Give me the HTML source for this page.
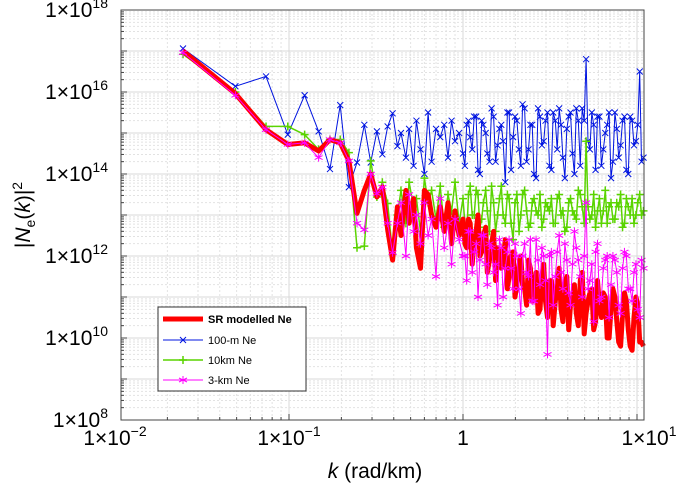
<!DOCTYPE html>
<html><head><meta charset="utf-8"><style>
body{margin:0;background:#fff;}
svg{display:block;font-family:"Liberation Sans",sans-serif;}
</style></head><body>
<svg id="chart" width="685" height="493" viewBox="0 0 685 493">
<g id="grid"></g>
<g id="series"></g>
<rect x="121" y="10" width="523" height="410" fill="none" stroke="#444" stroke-width="1"/>
<g id="ticks"></g>
<text x="375" y="478" font-size="21" text-anchor="middle"><tspan font-style="italic">k</tspan> (rad/km)</text>
<text transform="translate(30,215) rotate(-90)" font-size="21" text-anchor="middle">|<tspan font-style="italic">N</tspan><tspan font-size="14" dy="5">e</tspan><tspan dy="-5">(</tspan><tspan font-style="italic">k</tspan>)|<tspan font-size="14" dy="-8">2</tspan></text>
<g>
<rect x="158" y="307" width="148" height="84" fill="#fff" stroke="#333" stroke-width="1"/>
<g><line x1="163" y1="319" x2="203" y2="319" stroke="#f00" stroke-width="5"/><text x="208" y="323" font-size="11" font-weight="bold">SR modelled Ne</text></g>
<g><line x1="163" y1="340" x2="203" y2="340" stroke="#0014e0" stroke-width="1"/><path d="M180 337l6 6M186 337l-6 6" stroke="#0014e0" stroke-width="1"/><text x="208" y="344" font-size="11">100-m Ne</text></g>
<g><line x1="163" y1="360" x2="203" y2="360" stroke="#5ad400" stroke-width="1.5"/><path d="M183 356v8M179 360h8" stroke="#5ad400" stroke-width="1.5"/><text x="208" y="364" font-size="11">10km Ne</text></g>
<g><line x1="163" y1="380" x2="203" y2="380" stroke="#f0f" stroke-width="1"/><path d="M183 376v8M179 378l8 4M179 382l8-4" stroke="#f0f" stroke-width="1"/><text x="208" y="384" font-size="11">3-km Ne</text></g>
</g>
</svg>
<script>
const kValues=[0.0246,0.0492,0.0738,0.0984,0.123,0.148,0.172,0.197,0.221,0.246,0.271,0.295,0.32,0.344,0.369,0.394,
0.42,0.44,0.47,0.49,0.52,0.54,0.57,0.6,0.63,0.66,0.7,0.74,0.78,0.82,0.86,0.9,0.95,1.0,1.05,1.1,1.16,1.22,1.28,1.35,1.42,1.5,1.58,1.66,1.75,1.84,1.94,2.04,2.15,2.26,2.38,2.5,2.63,2.77,2.91,3.06,3.22,3.39,3.57,3.75,3.95,4.15,4.37,4.6,4.84,5.1,5.36,5.64,5.93,6.24,6.57,6.91,7.27,7.65,8.05,8.47,8.91,9.37,9.86,10.37,10.9,
1.025,1.075,1.13,1.19,1.25,1.31,1.38,1.46,1.54,1.62,1.7,1.8,1.89,1.99,2.1,2.2,2.32,2.44,2.56,2.7,2.84,2.98,3.14,3.3,3.48,3.66,3.85,4.05,4.26,4.48,4.72,4.97,5.23,5.5,5.78,6.08,6.4,6.74,7.09,7.46,7.85,8.26,8.69,9.14,9.61,10.1,10.62];
const logBlue=[17.06,16.14,16.38,14.96,15.92,15.04,14.12,15.68,13.68,14.28,15.2,14.28,15.04,14.48,15.16,15.48,
14.68,15.0,14.4,15.1,14.2,15.3,14.6,14.0,15.5,14.3,15.1,14.9,15.2,14.4,15.3,14.8,15.0,14.5,15.2,14.9,15.4,14.1,15.3,15.0,14.3,15.4,14.7,15.2,13.8,15.5,14.9,15.3,14.2,15.6,14.6,15.2,13.9,15.4,14.8,15.5,14.1,15.3,15.6,14.4,15.1,15.5,14.0,15.3,15.6,16.8,14.6,15.2,15.4,14.2,15.0,15.5,14.3,15.1,14.7,15.4,14.0,15.3,14.8,16.5,14.4,
14.2,15.3,14.6,15.4,14.0,15.2,14.5,15.6,14.3,15.1,14.8,15.5,14.1,15.4,14.6,15.7,14.3,15.2,14.0,15.6,14.7,15.3,14.2,15.5,14.6,15.2,13.9,15.4,14.5,15.6,14.2,15.3,14.8,15.5,14.1,15.4,14.6,15.2,13.9,15.5,14.4,15.3,14.1,15.4,14.7,15.2,14.3];
const logGreen=[16.92,16.0,15.16,15.16,14.96,14.6,14.84,14.84,14.52,12.2,12.24,14.32,13.44,13.8,13.28,12.04,
13.0,13.6,12.8,13.8,13.2,13.4,12.6,13.9,13.3,13.6,12.9,13.7,12.7,13.5,13.1,13.8,12.8,13.4,12.5,13.7,13.0,13.5,12.9,13.6,12.6,13.3,13.0,13.7,12.8,13.4,12.4,13.5,13.0,13.6,12.7,13.3,13.1,13.5,12.9,13.2,13.4,12.8,13.5,13.1,12.7,13.4,13.0,13.6,13.2,14.8,12.9,13.5,13.1,12.8,13.6,13.2,12.9,13.3,13.5,12.8,13.2,13.4,13.0,13.5,13.1,
12.8,13.5,13.0,13.6,12.7,13.3,13.1,13.7,12.6,13.4,13.0,13.5,12.8,13.3,12.6,13.5,13.1,12.8,13.4,13.0,12.7,13.3,13.1,12.8,13.4,13.0,12.6,13.3,13.1,12.9,13.5,12.8,13.2,13.0,12.7,13.4,13.1,12.8,13.3,12.9,13.2,12.7,13.4,13.0,12.8,13.3,13.0];
const logMagenta=[16.96,15.92,15.08,14.72,14.76,14.4,14.84,14.76,14.32,12.8,12.64,14.0,13.52,13.68,12.8,12.08,
12.8,13.3,12.0,13.5,12.6,13.0,12.3,13.3,12.5,12.9,11.5,13.4,12.2,12.8,11.8,12.9,12.4,12.0,11.4,12.6,12.1,11.0,12.5,11.8,12.3,11.6,10.8,12.2,11.7,12.4,11.2,12.0,10.6,12.3,11.5,10.9,12.4,11.3,12.0,9.6,12.1,11.5,12.5,11.2,11.9,10.8,12.6,11.9,11.0,13.3,11.4,10.4,12.3,11.0,11.9,10.5,12.0,11.6,10.6,12.1,11.2,10.9,11.8,10.5,11.7,
12.0,12.6,11.6,12.3,11.9,12.5,11.3,12.2,11.8,12.4,11.0,12.1,11.7,12.3,11.2,12.0,11.6,12.4,10.9,11.9,12.2,11.4,12.0,10.8,12.1,11.6,12.3,11.1,11.8,12.2,11.5,12.0,11.2,11.8,12.1,10.9,11.7,12.0,11.3,11.9,10.8,11.7,12.0,11.2,11.6,10.7,11.9];
const logRed=[17.0,15.96,15.08,14.72,14.76,14.56,14.84,14.76,14.32,13.04,13.6,14.0,13.44,13.68,12.64,11.9,
13.2,12.5,13.6,12.8,13.4,12.2,11.7,13.6,13.5,13.0,12.7,13.2,12.6,13.3,12.3,13.1,12.5,12.9,12.2,12.8,12.4,13.0,12.1,12.7,11.9,12.6,12.2,11.7,12.4,11.5,12.1,11.3,12.0,11.2,11.9,10.9,11.6,10.7,11.8,10.5,11.4,10.9,11.7,10.4,11.5,10.8,11.3,10.3,11.6,10.6,11.1,10.2,11.4,10.5,11.0,10.0,11.2,10.4,9.8,11.1,10.2,9.7,11.0,9.9,9.8,
12.3,12.9,11.8,12.6,12.0,12.5,11.6,12.3,11.4,12.1,11.9,11.2,12.0,11.0,11.8,11.3,10.8,11.7,11.1,10.6,11.5,10.9,11.4,10.3,11.2,10.7,11.3,10.2,11.0,10.6,11.4,10.1,10.9,11.2,10.4,10.8,11.1,10.0,10.7,11.0,9.9,10.6,10.9,9.8,10.5,10.8,9.9];
const yTickExps=[18,16,14,12,10,8];
const xTickVals=[0.01,0.1,1,10];
const xTickLabels=[["1×10","−2"],["1×10","−1"],["1",""],["1×10","1"]];

const NS="http://www.w3.org/2000/svg";
const X0=121,X1=644,Y0=10,Y1=420;
function xs(k){return 463+174*Math.log10(k);}
function ys(e){return Y0+(18-e)*41;}
function mk(tag,attrs,parent){const el=document.createElementNS(NS,tag);for(const a in attrs)el.setAttribute(a,attrs[a]);parent.appendChild(el);return el;}
const grid=document.getElementById('grid'),ticks=document.getElementById('ticks'),series=document.getElementById('series');
for(let d=-2;d<=1;d++){for(let m=1;m<=9;m++){const x=xs(m*Math.pow(10,d));if(x<X0||x>X1)continue;
const g=mk('line',{x1:x,x2:x,y1:Y0,y2:Y1,stroke:m==1?'#d8d8d8':'#e2e2e2','stroke-width':1,'stroke-dasharray':m==1?'':'2,2'},grid);

mk('line',{x1:x,x2:x,y1:Y1,y2:Y1-(m==1?6:3),stroke:'#444'},ticks);}}
for(let e=8;e<18;e++){for(let m=1;m<=9;m++){const y=ys(e+Math.log10(m));
const g=mk('line',{x1:X0,x2:X1,y1:y,y2:y,stroke:m==1?'#d8d8d8':'#e2e2e2','stroke-width':1,'stroke-dasharray':m==1?'':'2,2'},grid);

mk('line',{x1:X0,x2:X0+(m==1?6:3),y1:y,y2:y,stroke:'#444'},ticks);}}
yTickExps.forEach(e=>{const t=mk('text',{x:108,y:ys(e)+7,'font-size':21,'text-anchor':'end'},ticks);

t.appendChild(document.createTextNode('1×10'));const s=mk('tspan',{'font-size':14,dy:-9},t);s.textContent=String(e);});
xTickVals.forEach((v,i)=>{const t=mk('text',{x:xs(v)+(i==3?12:0),y:445,'font-size':21,'text-anchor':'middle'},ticks);

t.appendChild(document.createTextNode(xTickLabels[i][0]));
if(xTickLabels[i][1]){const s=mk('tspan',{'font-size':14,dy:-9},t);s.textContent=xTickLabels[i][1];}});
const order=kValues.map((k,i)=>i).sort((a,b)=>kValues[a]-kValues[b]);
function pts(arr){return order.map(i=>xs(kValues[i]).toFixed(1)+','+ys(arr[i]).toFixed(1)).join(' ');}
function marker(type,x,y,col,g){let d;
if(type=='x')d=`M${x-3} ${y-3}l6 6M${x+3} ${y-3}l-6 6`;
else if(type=='+')d=`M${x} ${y-4}v8M${x-4} ${y}h8`;
else d=`M${x} ${y-4}v8M${x-4} ${y-2}l8 4M${x-4} ${y+2}l8 -4`;
const p=mk('path',{d:d,stroke:col,'stroke-width':type=='+'?1.5:1,fill:'none'},g);
}
function drawSeries(arr,col,w,mtype,name){const g=mk('g',{},series);

const l=mk('polyline',{points:pts(arr),fill:'none',stroke:col,'stroke-width':w,'stroke-linejoin':'round'},g);

if(mtype)order.forEach(i=>marker(mtype,xs(kValues[i]),ys(arr[i]),col,g));}
drawSeries(logBlue,'#0014e0',1,'x','series-100m-ne');
drawSeries(logGreen,'#5ad400',1.5,'+','series-10km-ne');
drawSeries(logRed,'#ff0000',5,null,'series-sr-modelled-ne');
drawSeries(logMagenta,'#ff00ff',1,'*','series-3km-ne');
</script>
</body></html>
